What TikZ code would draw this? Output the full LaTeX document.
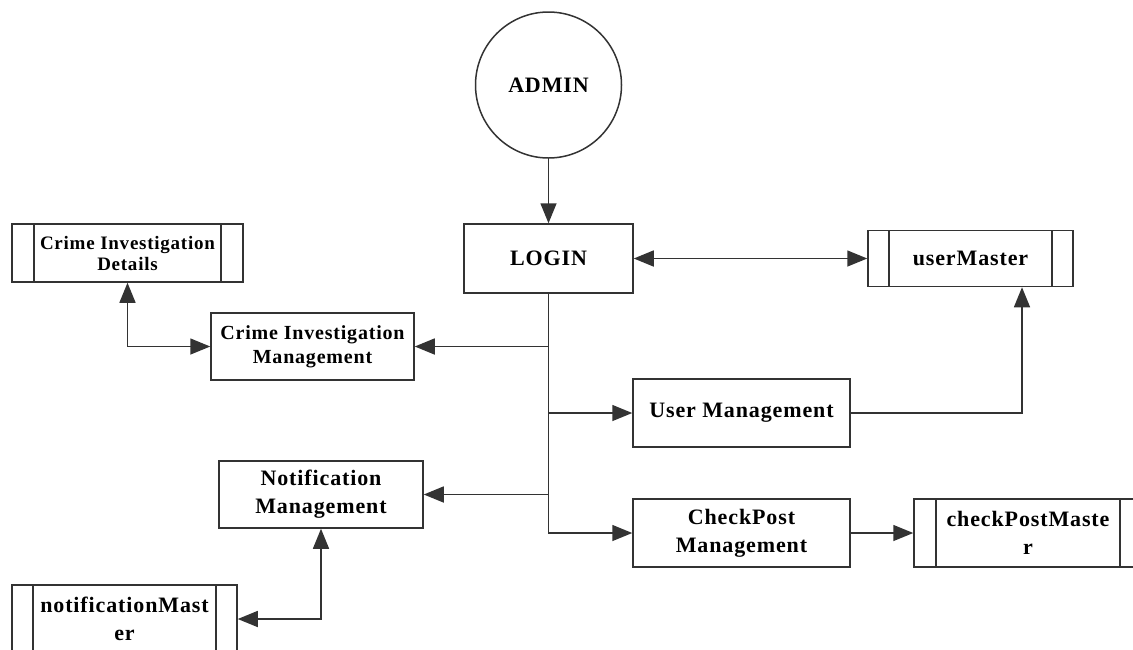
\documentclass[tikz,border=0pt]{standalone}
\usepackage{fontspec}
\setmainfont{Liberation Serif}[LetterSpace=4]
\usetikzlibrary{arrows.meta}
\tikzset{
  ln/.style={draw=black!80, line width=1.5pt},
  arr/.style={ln, -{Triangle[length=20pt,width=16pt]}},
  darr/.style={ln, {Triangle[length=20pt,width=16pt]}-{Triangle[length=20pt,width=16pt]}},
  proc/.style={ln, rectangle, align=center, inner sep=0pt,
     font=\fontsize{22}{28}\selectfont\bfseries},
  store/.style={proc, path picture={
     \draw[draw=black!80, line width=1.5pt]
       ([xshift=#1]path picture bounding box.north west) -- ([xshift=#1]path picture bounding box.south west)
       ([xshift=-#1]path picture bounding box.north east) -- ([xshift=-#1]path picture bounding box.south east);}},
}
\begin{document}
\begin{tikzpicture}[x=1pt,y=-1pt]
\useasboundingbox (0,0) rectangle (1133,649);
\clip (0,0) rectangle (1133,649);
\node[ln, circle, minimum size=146pt, inner sep=0pt, font=\fontsize{22}{26}\selectfont\bfseries] (admin) at (548.5,85) {ADMIN};
\node[proc, minimum width=169pt, minimum height=69pt] (login) at (548.5,258.5) {LOGIN};
\node[store=21pt, minimum width=205pt, minimum height=56pt] (usermaster) at (970.5,258.5) {userMaster};
\node[store=22pt, minimum width=231pt, minimum height=58pt, font=\fontsize{19}{21}\selectfont\bfseries] (cid) at (127.5,253) {Crime Investigation\\Details};
\node[proc, minimum width=203pt, minimum height=67pt, font=\fontsize{20}{24}\selectfont\bfseries] (cim) at (312.5,346.5) {Crime Investigation\\Management};
\node[proc, minimum width=217pt, minimum height=68pt] (um) at (741.5,413) {User Management};
\node[proc, minimum width=204pt, minimum height=67pt] (nm) at (321,494.5) {Notification\\Management};
\node[proc, minimum width=217pt, minimum height=68pt] (cpm) at (741.5,533) {CheckPost\\Management};
\node[store=22pt, minimum width=228pt, minimum height=68pt] (cpmaster) at (1028,533) {checkPostMaste\\r};
\node[store=21pt, minimum width=225pt, minimum height=68pt] (nmaster) at (124.5,619) {notificationMast\\er};

\draw[arr] (admin) -- (login);
\draw[darr] (login) -- (usermaster);
\draw[arr] (login.south) |- (cpm.west);
\draw[arr] (login.south |- cim.east) -- (cim.east);
\draw[arr] (login.south |- um.west) -- (um.west);
\draw[arr] (login.south |- nm.east) -- (nm.east);
\draw[arr] (um.east) -| ([xshift=51.5pt]usermaster.south);
\draw[darr] (cid.south) |- (cim.west);
\draw[arr] (cpm.east) -- (cpmaster.west);
\draw[darr] (nm.south) |- (nmaster.east);
\end{tikzpicture}
\end{document}
